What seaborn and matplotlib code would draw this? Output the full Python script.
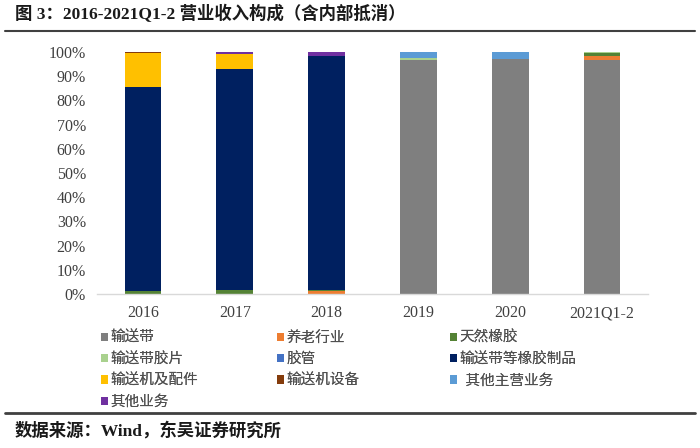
import matplotlib
matplotlib.use("Agg")
import matplotlib.pyplot as plt
from matplotlib.patches import Patch
from matplotlib.lines import Line2D
import seaborn as sns
import numpy as np

sns.set_theme(style="white")
plt.rcParams['font.family'] = ['Noto Sans CJK SC', 'DejaVu Sans']

categories = ["2016", "2017", "2018", "2019", "2020", "2021Q1-2"]

segments = ["输送带", "养老行业", "天然橡胶", "输送带胶片", "胶管",
            "输送带等橡胶制品", "输送机及配件", "输送机设备", "其他主营业务", "其他业务"]

# percentage of revenue per segment (2016 .. 2021Q1-2)
v_conveyor_belt   = [0.0, 0.0, 0.0, 96.7, 97.2, 96.7]
v_elderly_care    = [0.0, 0.0, 1.2, 0.0, 0.0, 1.8]
v_natural_rubber  = [1.2, 1.8, 0.4, 0.0, 0.0, 1.0]
v_belt_sheet      = [0.0, 0.0, 0.0, 0.8, 0.0, 0.5]
v_hose            = [0.0, 0.0, 0.0, 0.0, 0.0, 0.0]
v_rubber_products = [84.2, 91.2, 96.6, 0.0, 0.0, 0.0]
v_conveyor_parts  = [14.2, 6.0, 0.0, 0.0, 0.0, 0.0]
v_conveyor_equip  = [0.4, 0.0, 0.0, 0.0, 0.0, 0.0]
v_other_main      = [0.0, 0.0, 0.0, 2.5, 2.8, 0.0]
v_other           = [0.0, 1.0, 1.8, 0.0, 0.0, 0.0]

values = [v_conveyor_belt, v_elderly_care, v_natural_rubber, v_belt_sheet, v_hose,
          v_rubber_products, v_conveyor_parts, v_conveyor_equip, v_other_main, v_other]

colors = ["#7F7F7F", "#ED7D31", "#548235", "#A9D18E", "#4472C4",
          "#002060", "#FFC000", "#843C0C", "#5B9BD5", "#7030A0"]

fig = plt.figure(figsize=(7.0, 4.48), dpi=100)
ax = fig.add_axes([97/700, 1-294/448, (648-97)/700, (294-52)/448])

bottom = np.zeros(len(categories))
for seg, vals, col in zip(segments, values, colors):
    v = np.array(vals) / 100.0
    sns.barplot(x=categories, y=v, bottom=bottom, color=col, saturation=1,
                width=0.4, errorbar=None, linewidth=0, ax=ax, order=categories)
    bottom = bottom + v

ax.set_ylim(0, 1)
ax.set_xlim(-0.5, 5.5)
ax.set_yticks(np.arange(0, 1.01, 0.1))
ax.set_yticklabels([f"{int(round(t*100))}%" for t in np.arange(0, 1.01, 0.1)])
ax.set_xlabel("")
ax.set_ylabel("")
for s in ["top", "right", "left"]:
    ax.spines[s].set_visible(False)
ax.spines["bottom"].set_color("#D9D9D9")
ax.spines["bottom"].set_linewidth(1.0)
ax.tick_params(axis="both", length=0, colors="#404040")
ax.tick_params(axis="y", pad=8)
ax.tick_params(axis="x", pad=8)
for lab in ax.get_xticklabels() + ax.get_yticklabels():
    lab.set_fontfamily(["Liberation Serif", "Noto Sans CJK SC"])
    lab.set_fontsize(11.5)
    lab.set_color("#404040")

# legend: three columns placed at fixed x positions
col_items = [[0, 3, 6, 9], [1, 4, 7], [2, 5, 8]]
col_x = [101/700, 277/700, 450/700]
disp = {i: s for i, s in enumerate(segments)}
disp[8] = "  其他主营业务"
for xs, items in zip(col_x, col_items):
    handles = [Patch(facecolor=colors[i], edgecolor="none") for i in items]
    labels = [disp[i] for i in items]
    leg = fig.legend(handles, labels, loc="upper left", bbox_to_anchor=(xs, 1-331/448),
                     frameon=False, fontsize=10.5, handlelength=0.5, handleheight=0.5,
                     handletextpad=0.15, labelspacing=0.5, borderpad=0, borderaxespad=0,
                     labelcolor="#505050")
    fig.add_artist(leg)

# title and footer
fig.text(15/700, 1-14/448, "图 3：2016-2021Q1-2 营业收入构成（含内部抵消）",
         family=["Liberation Serif", "Noto Sans CJK SC"], fontweight="bold",
         fontsize=12.5, va="center", ha="left", color="#1a1a1a")
fig.add_artist(Line2D([5/700, 695/700], [1-31/448, 1-31/448], transform=fig.transFigure,
                      color="#404040", linewidth=1.5))
fig.add_artist(Line2D([5/700, 695/700], [1-413/448, 1-413/448], transform=fig.transFigure,
                      color="#404040", linewidth=2.0))
fig.text(15/700, 1-431/448, "数据来源：Wind，东吴证券研究所",
         family=["Liberation Serif", "Noto Sans CJK SC"], fontweight="bold",
         fontsize=12.5, va="center", ha="left", color="#1a1a1a")

fig.savefig("out.png", dpi=100)
